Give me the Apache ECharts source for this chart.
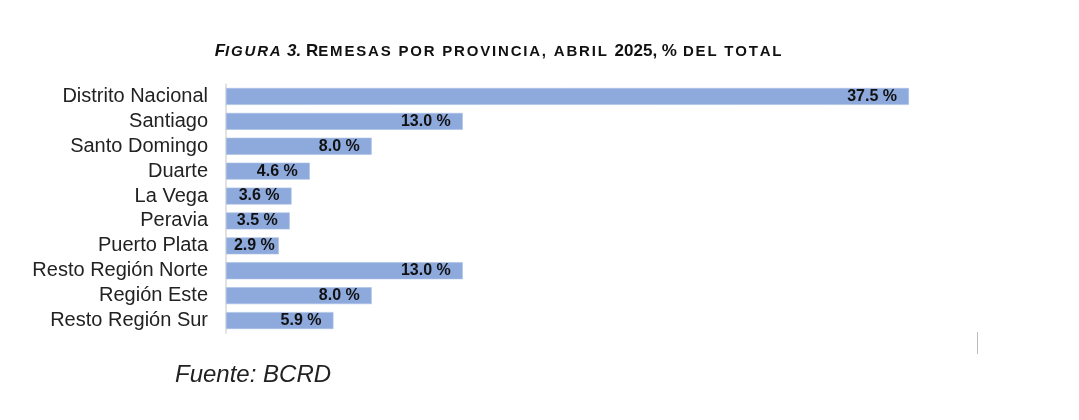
<!DOCTYPE html>
<html><head><meta charset="utf-8">
<script src="https://cdn.jsdelivr.net/npm/echarts@6/dist/echarts.min.js"></script>
<style>html,body{margin:0;padding:0;background:#fff}#c{width:1079px;height:420px}</style>
</head><body><div id="c"></div>
<script>
const categories = ["Distrito Nacional","Santiago","Santo Domingo","Duarte","La Vega","Peravia","Puerto Plata","Resto Región Norte","Región Este","Resto Región Sur"];
const values = [37.5,13.0,8.0,4.6,3.6,3.5,2.9,13.0,8.0,5.9];
const titleParts = [["bi","F"],["si","IGURA"],["bi"," 3."],["b"," R"],["s","EMESAS POR PROVINCIA, ABRIL "],["b","2025, %"],["s"," DEL TOTAL"]];
const sourceText = "Fuente: BCRD";

const TS = '\u2009';
const spaced = (k,s) => s.split('').map(ch => '{'+k+'|'+ch+'}{g|'+TS+'}').join('');
const titleText = titleParts.map(([k,t]) => k.startsWith('s') ? spaced(k,t) : '{'+k+'|'+t+'}').join('');

const chart = echarts.init(document.getElementById('c'), null, {renderer:'canvas'});
const F = 'Liberation Sans, Arial, sans-serif';
// short bars: label pushed towards the bar end, as the original does when it would not fit
const seriesData = values.map(v => v < 3.2 ? {value:v, label:{distance:4}} : v);
chart.setOption({
  animation:false,
  backgroundColor:'#fff',
  title:[{
    text:titleText, left:494, top:38, textAlign:'center',
    textStyle:{rich:{
      bi:{fontFamily:F,fontSize:17,fontWeight:'bold',fontStyle:'italic',color:'#111'},
      si:{fontFamily:F,fontSize:15,fontWeight:'bold',fontStyle:'italic',color:'#111'},
      b:{fontFamily:F,fontSize:17,fontWeight:'bold',color:'#111'},
      s:{fontFamily:F,fontSize:15,fontWeight:'bold',color:'#111'},
      g:{fontFamily:F,fontSize:9,color:'#111'}
    }}
  },{
    text:sourceText, left:170, top:358,
    textStyle:{fontFamily:F,fontSize:24,fontStyle:'italic',fontWeight:'normal',color:'#222'}
  }],
  grid:{left:226, top:84, height:249, width:728.5},
  xAxis:{type:'value', min:0, max:40, show:false},
  yAxis:{type:'category', data:categories, inverse:true,
    axisLine:{show:true, lineStyle:{color:'#d9d9d9', width:1.5}},
    axisTick:{show:false},
    axisLabel:{interval:0, fontFamily:F, fontSize:20, color:'#222', margin:18}
  },
  series:[{
    type:'bar', data:seriesData, barCategoryGap:'32%',
    itemStyle:{color:'#8eaadc', borderColor:'#a9bfe6', borderWidth:0.6},
    label:{show:true, position:'insideRight', distance:12,
      formatter:p=>p.value.toFixed(1)+' %',
      fontFamily:F, fontSize:16, fontWeight:'bold', color:'#111'}
  }],
  graphic:[{type:'line', shape:{x1:977.5,y1:332,x2:977.5,y2:354}, style:{stroke:'#bbb', lineWidth:1}}]
});
</script></body></html>
